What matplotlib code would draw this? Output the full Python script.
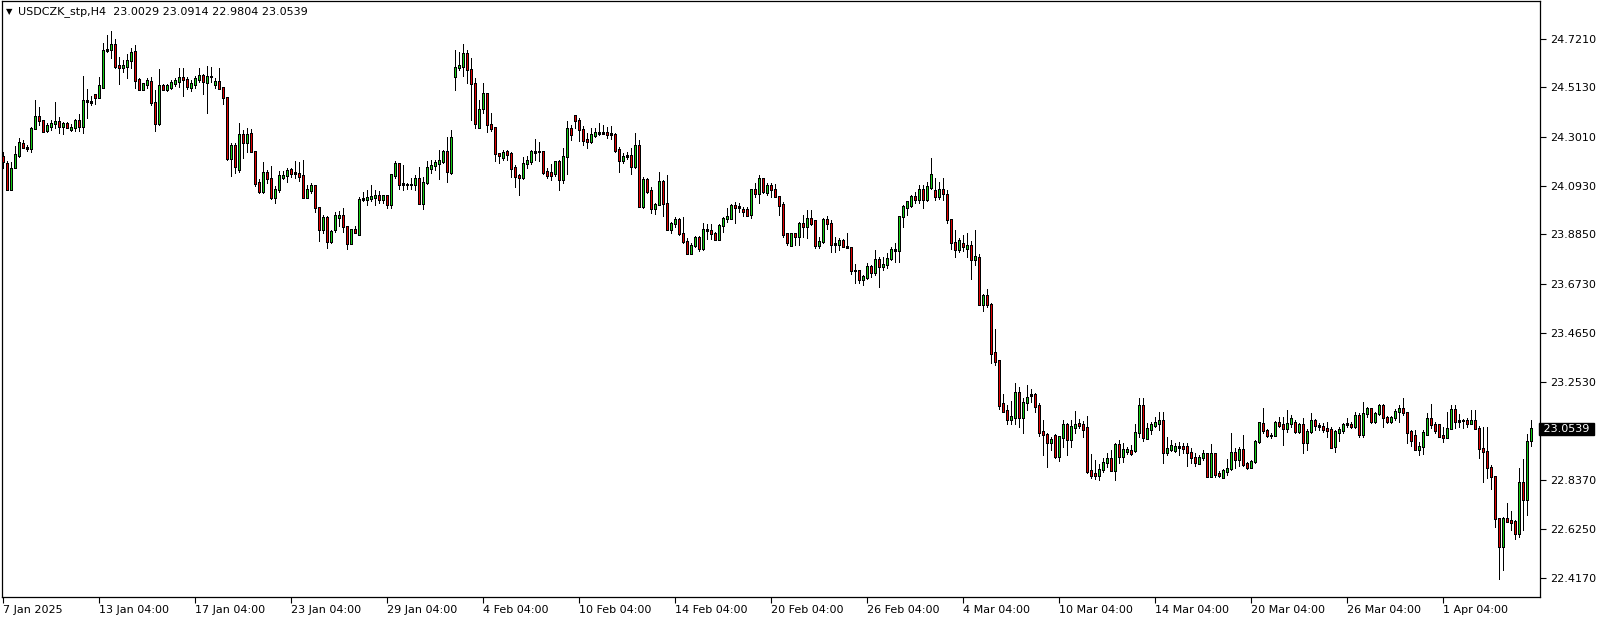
import numpy as np
import matplotlib
matplotlib.use("Agg")
import matplotlib.pyplot as plt
from matplotlib.transforms import blended_transform_factory

# H4 candles, USDCZK, 7 Jan 2025 -> 4 Apr 2025
opens = [
    24.218, 24.190, 24.078, 24.171, 24.222, 24.272, 24.256, 24.253, 24.339, 24.391,
    24.372, 24.329, 24.346, 24.358, 24.368, 24.346, 24.357, 24.334, 24.343, 24.374,
    24.347, 24.458, 24.448, 24.481, 24.471, 24.515, 24.672, 24.676, 24.695, 24.605,
    24.599, 24.602, 24.629, 24.666, 24.545, 24.505, 24.527, 24.539, 24.450, 24.357,
    24.522, 24.505, 24.515, 24.529, 24.538, 24.556, 24.548, 24.512, 24.524, 24.549,
    24.566, 24.535, 24.561, 24.524, 24.538, 24.512, 24.471, 24.208, 24.266, 24.163,
    24.310, 24.279, 24.315, 24.241, 24.105, 24.068, 24.151, 24.125, 24.043, 24.076,
    24.130, 24.137, 24.161, 24.149, 24.147, 24.135, 24.043, 24.074, 24.093, 24.001,
    23.907, 23.959, 23.853, 23.905, 23.957, 23.967, 23.919, 23.848, 23.905, 23.886,
    24.036, 24.033, 24.040, 24.044, 24.050, 24.036, 24.050, 24.014, 24.137, 24.187,
    24.104, 24.100, 24.100, 24.097, 24.125, 24.018, 24.108, 24.168, 24.178, 24.189,
    24.197, 24.241, 24.150, 24.560, 24.598, 24.602, 24.659, 24.591, 24.531, 24.343,
    24.423, 24.489, 24.355, 24.340, 24.232, 24.215, 24.239, 24.229, 24.170, 24.138,
    24.129, 24.189, 24.196, 24.236, 24.239, 24.239, 24.153, 24.149, 24.146, 24.196,
    24.118, 24.217, 24.336, 24.393, 24.374, 24.334, 24.289, 24.282, 24.307, 24.317,
    24.322, 24.320, 24.317, 24.311, 24.246, 24.203, 24.220, 24.224, 24.175, 24.267,
    24.004, 24.118, 24.071, 23.997, 24.014, 24.111, 24.018, 23.904, 23.930, 23.947,
    23.887, 23.854, 23.804, 23.837, 23.874, 23.825, 23.904, 23.901, 23.887, 23.864,
    23.925, 23.951, 23.954, 24.009, 24.004, 23.992, 23.990, 23.972, 24.075, 24.061,
    24.125, 24.064, 24.096, 24.079, 24.047, 24.011, 23.887, 23.839, 23.890, 23.876,
    23.933, 23.918, 23.954, 23.943, 23.836, 23.854, 23.950, 23.933, 23.847, 23.844,
    23.858, 23.833, 23.830, 23.733, 23.729, 23.691, 23.702, 23.750, 23.722, 23.776,
    23.750, 23.757, 23.783, 23.822, 23.816, 23.961, 24.001, 24.008, 24.049, 24.035,
    24.075, 24.035, 24.086, 24.071, 24.049, 24.075, 24.054, 23.950, 23.851, 23.821,
    23.847, 23.826, 23.836, 23.779, 23.787, 23.587, 23.626, 23.584, 23.380, 23.346,
    23.161, 23.131, 23.095, 23.102, 23.211, 23.102, 23.166, 23.196, 23.199, 23.152,
    23.041, 23.032, 22.996, 23.028, 22.936, 23.018, 23.075, 23.010, 23.061, 23.078,
    23.071, 23.058, 22.875, 22.864, 22.855, 22.882, 22.910, 22.929, 22.876, 22.986,
    22.936, 22.957, 22.960, 22.960, 23.038, 23.152, 23.014, 23.052, 23.069, 23.078,
    23.092, 22.953, 22.968, 22.961, 22.981, 22.981, 22.981, 22.955, 22.933, 22.907,
    22.933, 22.950, 22.850, 22.950, 22.864, 22.847, 22.871, 22.886, 22.954, 22.924,
    22.967, 22.907, 22.890, 22.913, 22.999, 23.078, 23.049, 23.028, 23.028, 23.082,
    23.071, 23.057, 23.078, 23.082, 23.042, 23.071, 22.995, 23.045, 23.092, 23.068,
    23.066, 23.054, 23.052, 22.978, 23.039, 23.047, 23.074, 23.075, 23.064, 23.113,
    23.031, 23.118, 23.142, 23.085, 23.121, 23.156, 23.104, 23.085, 23.104, 23.128,
    23.142, 23.125, 23.041, 23.028, 22.967, 22.978, 23.032, 23.099, 23.075, 23.071,
    23.024, 23.018, 23.057, 23.138, 23.085, 23.089, 23.092, 23.078, 23.092, 23.057,
    22.971, 22.957, 22.890, 22.850, 22.672, 22.551, 22.672, 22.661, 22.658, 22.608,
    22.826, 22.752, 23.0029,
]
highs = [
    24.239, 24.200, 24.196, 24.263, 24.296, 24.289, 24.267, 24.346, 24.460, 24.430,
    24.373, 24.363, 24.374, 24.450, 24.387, 24.367, 24.367, 24.356, 24.378, 24.398,
    24.562, 24.507, 24.477, 24.487, 24.556, 24.702, 24.737, 24.754, 24.720, 24.645,
    24.630, 24.655, 24.683, 24.695, 24.552, 24.534, 24.552, 24.556, 24.502, 24.592,
    24.527, 24.529, 24.545, 24.552, 24.595, 24.595, 24.559, 24.545, 24.564, 24.595,
    24.571, 24.605, 24.601, 24.552, 24.595, 24.517, 24.474, 24.274, 24.274, 24.363,
    24.331, 24.338, 24.336, 24.241, 24.121, 24.194, 24.161, 24.178, 24.093, 24.154,
    24.158, 24.171, 24.171, 24.199, 24.194, 24.204, 24.095, 24.104, 24.093, 24.001,
    23.969, 23.964, 23.905, 23.983, 23.987, 23.997, 23.922, 23.907, 23.922, 24.047,
    24.066, 24.073, 24.097, 24.073, 24.071, 24.050, 24.050, 24.144, 24.197, 24.187,
    24.182, 24.104, 24.125, 24.140, 24.175, 24.132, 24.197, 24.204, 24.204, 24.244,
    24.244, 24.300, 24.332, 24.671, 24.666, 24.699, 24.671, 24.638, 24.553, 24.460,
    24.531, 24.489, 24.406, 24.340, 24.232, 24.246, 24.246, 24.239, 24.182, 24.143,
    24.217, 24.222, 24.246, 24.293, 24.281, 24.239, 24.168, 24.186, 24.199, 24.203,
    24.253, 24.371, 24.353, 24.395, 24.381, 24.348, 24.317, 24.338, 24.338, 24.360,
    24.353, 24.343, 24.348, 24.317, 24.260, 24.235, 24.239, 24.253, 24.320, 24.289,
    24.129, 24.125, 24.086, 24.018, 24.153, 24.118, 24.139, 23.940, 23.958, 23.954,
    23.961, 23.869, 23.847, 23.879, 23.879, 23.933, 23.930, 23.930, 23.897, 23.930,
    23.958, 23.997, 24.015, 24.025, 24.021, 24.001, 24.001, 24.075, 24.106, 24.139,
    24.125, 24.106, 24.103, 24.101, 24.049, 24.025, 23.890, 23.893, 23.893, 23.940,
    23.968, 23.990, 23.990, 23.947, 23.876, 23.954, 23.964, 23.947, 23.873, 23.869,
    23.864, 23.893, 23.833, 23.759, 23.729, 23.712, 23.762, 23.755, 23.819, 23.790,
    23.787, 23.807, 23.830, 23.847, 23.964, 24.011, 24.029, 24.054, 24.068, 24.096,
    24.096, 24.111, 24.210, 24.125, 24.111, 24.125, 24.075, 23.951, 23.904, 23.868,
    23.883, 23.890, 23.858, 23.904, 23.802, 23.631, 23.651, 23.594, 23.480, 23.349,
    23.203, 23.156, 23.175, 23.252, 23.232, 23.185, 23.242, 23.223, 23.209, 23.163,
    23.090, 23.035, 23.021, 23.033, 23.025, 23.092, 23.078, 23.092, 23.132, 23.095,
    23.089, 23.109, 22.947, 22.921, 22.904, 22.929, 22.950, 22.964, 22.993, 23.007,
    22.993, 22.978, 22.986, 23.075, 23.185, 23.185, 23.081, 23.085, 23.104, 23.125,
    23.125, 23.021, 23.007, 22.993, 23.000, 22.993, 22.995, 22.974, 22.950, 22.943,
    22.964, 22.953, 22.990, 22.950, 22.876, 22.881, 22.924, 23.038, 22.971, 22.978,
    23.028, 22.914, 22.921, 23.007, 23.085, 23.142, 23.052, 23.035, 23.089, 23.104,
    23.104, 23.135, 23.113, 23.092, 23.078, 23.099, 23.052, 23.121, 23.095, 23.081,
    23.081, 23.085, 23.064, 23.049, 23.061, 23.078, 23.099, 23.085, 23.128, 23.121,
    23.170, 23.149, 23.142, 23.128, 23.160, 23.160, 23.109, 23.109, 23.138, 23.156,
    23.185, 23.125, 23.049, 23.049, 23.000, 23.049, 23.123, 23.160, 23.085, 23.071,
    23.064, 23.128, 23.156, 23.156, 23.118, 23.095, 23.099, 23.135, 23.135, 23.066,
    23.064, 23.064, 22.900, 22.850, 22.672, 22.679, 22.739, 22.703, 22.665, 22.886,
    22.925, 23.034, 23.0914,
]
lows = [
    24.171, 24.078, 24.075, 24.168, 24.218, 24.253, 24.243, 24.239, 24.336, 24.353,
    24.321, 24.324, 24.330, 24.339, 24.320, 24.313, 24.339, 24.327, 24.327, 24.327,
    24.320, 24.384, 24.438, 24.444, 24.468, 24.509, 24.666, 24.638, 24.595, 24.529,
    24.581, 24.555, 24.595, 24.509, 24.502, 24.502, 24.512, 24.438, 24.327, 24.353,
    24.501, 24.498, 24.507, 24.519, 24.517, 24.478, 24.507, 24.498, 24.512, 24.535,
    24.487, 24.405, 24.535, 24.512, 24.505, 24.443, 24.205, 24.136, 24.146, 24.151,
    24.210, 24.239, 24.241, 24.090, 24.064, 24.061, 24.104, 24.038, 24.021, 24.068,
    24.121, 24.111, 24.132, 24.125, 24.115, 24.040, 24.040, 24.061, 23.983, 23.855,
    23.890, 23.826, 23.848, 23.896, 23.919, 23.897, 23.822, 23.845, 23.890, 23.886,
    24.026, 24.011, 24.026, 24.009, 24.018, 24.018, 23.997, 23.997, 24.125, 24.078,
    24.076, 24.078, 24.078, 24.073, 24.018, 23.993, 24.101, 24.147, 24.161, 24.121,
    24.192, 24.111, 24.144, 24.503, 24.588, 24.564, 24.531, 24.375, 24.339, 24.339,
    24.406, 24.323, 24.325, 24.197, 24.189, 24.203, 24.203, 24.129, 24.089, 24.054,
    24.121, 24.168, 24.186, 24.203, 24.200, 24.143, 24.125, 24.118, 24.135, 24.075,
    24.103, 24.143, 24.289, 24.338, 24.286, 24.267, 24.253, 24.277, 24.300, 24.310,
    24.313, 24.296, 24.292, 24.239, 24.153, 24.189, 24.206, 24.143, 24.168, 24.001,
    23.997, 24.061, 23.978, 23.973, 24.011, 23.964, 23.904, 23.890, 23.918, 23.883,
    23.850, 23.801, 23.801, 23.833, 23.816, 23.820, 23.864, 23.864, 23.861, 23.861,
    23.897, 23.940, 23.950, 23.935, 23.982, 23.964, 23.964, 23.954, 24.044, 24.021,
    24.064, 24.054, 24.047, 24.044, 23.968, 23.876, 23.840, 23.836, 23.840, 23.840,
    23.876, 23.869, 23.925, 23.826, 23.826, 23.850, 23.907, 23.811, 23.811, 23.819,
    23.830, 23.826, 23.716, 23.676, 23.676, 23.669, 23.693, 23.702, 23.712, 23.662,
    23.733, 23.740, 23.776, 23.769, 23.769, 23.916, 23.968, 24.004, 24.018, 24.018,
    23.997, 24.029, 24.078, 24.032, 24.035, 24.032, 23.933, 23.822, 23.790, 23.811,
    23.816, 23.790, 23.693, 23.755, 23.584, 23.559, 23.577, 23.337, 23.327, 23.138,
    23.128, 23.075, 23.075, 23.075, 23.061, 23.038, 23.135, 23.171, 23.128, 23.024,
    22.943, 22.893, 22.964, 22.929, 22.919, 22.978, 22.943, 22.978, 23.035, 23.057,
    23.021, 22.867, 22.843, 22.839, 22.836, 22.872, 22.890, 22.875, 22.836, 22.907,
    22.914, 22.947, 22.943, 22.957, 23.018, 23.004, 23.010, 23.032, 23.064, 23.049,
    22.910, 22.943, 22.961, 22.957, 22.943, 22.953, 22.896, 22.910, 22.896, 22.904,
    22.921, 22.847, 22.847, 22.850, 22.847, 22.843, 22.857, 22.879, 22.886, 22.896,
    22.896, 22.881, 22.886, 22.907, 22.995, 23.035, 23.021, 23.014, 23.024, 23.064,
    22.985, 23.042, 23.064, 23.035, 23.035, 22.950, 22.964, 23.038, 23.049, 23.049,
    23.042, 23.021, 22.971, 22.957, 23.004, 23.035, 23.064, 23.057, 23.057, 23.021,
    23.021, 23.106, 23.081, 23.078, 23.113, 23.064, 23.081, 23.081, 23.092, 23.085,
    23.113, 22.992, 22.981, 22.964, 22.943, 22.947, 23.028, 23.057, 23.038, 23.018,
    23.000, 23.014, 23.052, 23.057, 23.064, 23.057, 23.061, 23.075, 23.052, 22.928,
    22.829, 22.843, 22.796, 22.636, 22.411, 22.451, 22.658, 22.622, 22.582, 22.594,
    22.620, 22.688, 22.9804,
]
closes = [
    24.196, 24.078, 24.168, 24.225, 24.279, 24.256, 24.252, 24.339, 24.391, 24.371,
    24.324, 24.349, 24.361, 24.368, 24.346, 24.357, 24.344, 24.344, 24.373, 24.347,
    24.458, 24.454, 24.455, 24.470, 24.522, 24.673, 24.677, 24.695, 24.601, 24.599,
    24.605, 24.630, 24.663, 24.542, 24.505, 24.528, 24.544, 24.450, 24.358, 24.522,
    24.505, 24.522, 24.536, 24.541, 24.556, 24.546, 24.517, 24.528, 24.552, 24.565,
    24.538, 24.561, 24.558, 24.538, 24.509, 24.470, 24.208, 24.266, 24.175, 24.310,
    24.279, 24.314, 24.241, 24.103, 24.068, 24.151, 24.125, 24.043, 24.076, 24.135,
    24.137, 24.159, 24.147, 24.147, 24.132, 24.043, 24.078, 24.093, 24.001, 23.907,
    23.959, 23.853, 23.896, 23.967, 23.967, 23.919, 23.848, 23.905, 23.893, 24.036,
    24.039, 24.041, 24.047, 24.053, 24.036, 24.050, 24.014, 24.140, 24.187, 24.100,
    24.097, 24.100, 24.100, 24.125, 24.018, 24.108, 24.172, 24.178, 24.192, 24.201,
    24.241, 24.154, 24.298, 24.600, 24.605, 24.659, 24.591, 24.531, 24.360, 24.420,
    24.486, 24.355, 24.338, 24.232, 24.222, 24.236, 24.227, 24.168, 24.132, 24.129,
    24.189, 24.199, 24.239, 24.239, 24.239, 24.149, 24.139, 24.136, 24.196, 24.118,
    24.220, 24.336, 24.313, 24.371, 24.334, 24.286, 24.282, 24.314, 24.320, 24.322,
    24.318, 24.313, 24.313, 24.243, 24.203, 24.220, 24.224, 24.175, 24.267, 24.004,
    24.118, 24.068, 23.997, 24.015, 24.111, 24.018, 23.907, 23.930, 23.947, 23.887,
    23.854, 23.804, 23.837, 23.874, 23.825, 23.904, 23.901, 23.887, 23.864, 23.925,
    23.954, 23.961, 24.009, 24.001, 23.998, 23.982, 23.968, 24.075, 24.061, 24.125,
    24.068, 24.096, 24.078, 24.047, 24.008, 23.883, 23.850, 23.890, 23.876, 23.933,
    23.918, 23.954, 23.933, 23.839, 23.854, 23.947, 23.933, 23.843, 23.840, 23.858,
    23.833, 23.829, 23.730, 23.729, 23.691, 23.705, 23.750, 23.722, 23.776, 23.750,
    23.757, 23.783, 23.822, 23.816, 23.961, 24.004, 24.025, 24.049, 24.035, 24.075,
    24.035, 24.089, 24.143, 24.047, 24.075, 24.058, 23.950, 23.850, 23.821, 23.857,
    23.833, 23.836, 23.779, 23.790, 23.587, 23.626, 23.584, 23.377, 23.342, 23.156,
    23.128, 23.095, 23.107, 23.211, 23.102, 23.169, 23.189, 23.203, 23.149, 23.038,
    23.030, 22.996, 23.007, 22.936, 23.021, 23.075, 23.010, 23.064, 23.075, 23.067,
    23.053, 22.872, 22.857, 22.855, 22.882, 22.912, 22.929, 22.876, 22.986, 22.936,
    22.964, 22.964, 22.950, 23.040, 23.152, 23.018, 23.057, 23.071, 23.081, 23.092,
    22.953, 22.971, 22.984, 22.981, 22.974, 22.971, 22.953, 22.931, 22.910, 22.933,
    22.950, 22.850, 22.950, 22.861, 22.853, 22.876, 22.886, 22.954, 22.924, 22.967,
    22.900, 22.890, 22.914, 23.002, 23.082, 23.047, 23.028, 23.024, 23.082, 23.068,
    23.057, 23.078, 23.099, 23.042, 23.071, 22.995, 23.045, 23.092, 23.068, 23.064,
    23.052, 23.049, 22.975, 23.042, 23.052, 23.075, 23.078, 23.064, 23.113, 23.031,
    23.118, 23.142, 23.085, 23.121, 23.152, 23.104, 23.085, 23.104, 23.128, 23.142,
    23.125, 23.038, 23.004, 22.967, 22.978, 23.038, 23.099, 23.071, 23.049, 23.021,
    23.018, 23.057, 23.138, 23.085, 23.089, 23.091, 23.078, 23.092, 23.057, 22.971,
    22.957, 22.890, 22.850, 22.672, 22.551, 22.672, 22.658, 22.654, 22.608, 22.824,
    22.752, 23.001, 23.0539,
]

symbol = "USDCZK_stp,H4"
last_ohlc = [23.0029, 23.0914, 22.9804, 23.0539]
price_ticks = [24.7210, 24.5130, 24.3010, 24.0930, 23.8850, 23.6730,
               23.4650, 23.2530, 22.8370, 22.6250, 22.4170]
date_labels = ["7 Jan 2025", "13 Jan 04:00", "17 Jan 04:00", "23 Jan 04:00",
               "29 Jan 04:00", "4 Feb 04:00", "10 Feb 04:00", "14 Feb 04:00",
               "20 Feb 04:00", "26 Feb 04:00", "4 Mar 04:00", "10 Mar 04:00",
               "14 Mar 04:00", "20 Mar 04:00", "26 Mar 04:00", "1 Apr 04:00"]
bars_per_label = 24

bull = "#14cc14"
bear = "#e00000"
plt.rcParams["font.family"] = ["DejaVu Sans"]

o = np.array(opens)
h = np.array(highs)
l = np.array(lows)
c = np.array(closes)
x = np.arange(len(c))
up = c >= o

W, H = 1604, 621
fig = plt.figure(figsize=(W / 100, H / 100), dpi=100)
# plot frame: x 2..1540 px, y 1..597 px from the top
ax = fig.add_axes([2 / W, 24 / H, 1538 / W, 596 / H])
ymin, ymax = 22.3358, 24.8825
ax.set_xlim(-0.325, 384.175)
ax.set_ylim(ymin, ymax)
px = (ymax - ymin) / 596.0  # one pixel in price units
lw1 = 72.0 / 100  # one pixel in points

# wicks
ax.vlines(x, l, h, color="black", linewidth=lw1, antialiased=False, zorder=2)
# bodies: 3 px black block with a 1 px coloured core
lo = np.minimum(o, c)
hi = np.maximum(o, c)
ax.vlines(x, lo - px / 2, hi + px / 2, color="black", linewidth=3 * lw1,
          antialiased=False, zorder=3)
core = (hi - lo) > px
ax.vlines(x[core], lo[core] + px / 2, hi[core] - px / 2,
          colors=np.where(up, bull, bear)[core], linewidth=lw1,
          antialiased=False, zorder=4)

for s in ax.spines.values():
    s.set_linewidth(0.9)
    s.set_color("black")

ax.yaxis.tick_right()
ax.set_yticks(price_ticks)
ax.set_yticklabels(["%.4f" % v for v in price_ticks], fontsize=8)
ax.tick_params(axis="y", direction="out", length=4, width=0.8, pad=3)

ax.set_xticks(np.arange(len(date_labels)) * bars_per_label)
ax.set_xticklabels(date_labels, fontsize=8, ha="left")
ax.tick_params(axis="x", direction="out", length=4, width=0.8, pad=2)

# current price marker
trans = blended_transform_factory(ax.transAxes, ax.transData)
ax.text(1.0, c[-1], " %.4f " % c[-1], transform=trans, fontsize=8,
        color="white", va="center", ha="left", clip_on=False,
        bbox=dict(boxstyle="square,pad=0.12", fc="black", ec="black"))

# header
fig.text(6 / W, 1 - 12 / H, "\u25bc", fontsize=6, va="center", ha="left")
fig.text(18 / W, 1 - 12 / H,
         symbol + "  " + " ".join("%.4f" % v for v in last_ohlc),
         fontsize=8, va="center", ha="left")

fig.savefig("out.png", dpi=100, facecolor="white")
